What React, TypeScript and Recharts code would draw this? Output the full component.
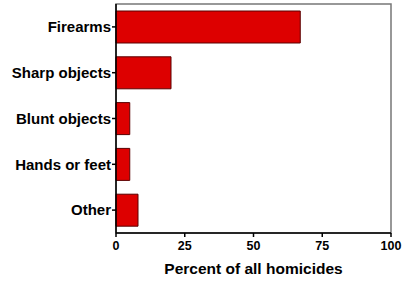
import { BarChart, Bar, XAxis, YAxis, ReferenceArea } from "recharts";

const categories = ["Firearms", "Sharp objects", "Blunt objects", "Hands or feet", "Other"];
const percents = [67, 20, 5, 5, 8];
const xTicks = [0, 25, 50, 75, 100];

const data = categories.map((name, i) => ({ name, value: percents[i] }));

const font = "'Liberation Sans', Arial, sans-serif";

export default function App() {
  return (
    <div style={{ position: "absolute", left: 0, top: 0, fontFamily: font, fontWeight: 700 }}>
      <BarChart
        width={404}
        height={281}
        data={data}
        layout="vertical"
        margin={{ top: 4, right: 13, left: 0, bottom: 0 }}
      >
        <ReferenceArea
          x1={0}
          x2={100}
          fill="none"
          fillOpacity={0}
          stroke="#777"
          strokeWidth={1.5}
        />
        <XAxis
          type="number"
          domain={[0, 100]}
          ticks={xTicks}
          height={48}
          stroke="#000"
          strokeWidth={1.5}
          tickSize={4}
          tickMargin={4}
          tick={{ fill: "#000", fontSize: 12.5, fontWeight: 700, fontFamily: font }}
          label={{
            value: "Percent of all homicides",
            position: "insideBottom",
            offset: 7,
            fill: "#000",
            fontSize: 15.5,
            fontWeight: 700,
            fontFamily: font,
          }}
        />
        <YAxis
          type="category"
          dataKey="name"
          width={116}
          stroke="#000"
          strokeWidth={1.5}
          tickSize={4}
          tickMargin={1}
          tick={{ fill: "#000", fontSize: 15, fontWeight: 700, fontFamily: font }}
        />
        <Bar
          dataKey="value"
          barSize={32}
          fill="#dd0000"
          stroke="#5a0000"
          strokeWidth={1}
          isAnimationActive={false}
        />
      </BarChart>
    </div>
  );
}
